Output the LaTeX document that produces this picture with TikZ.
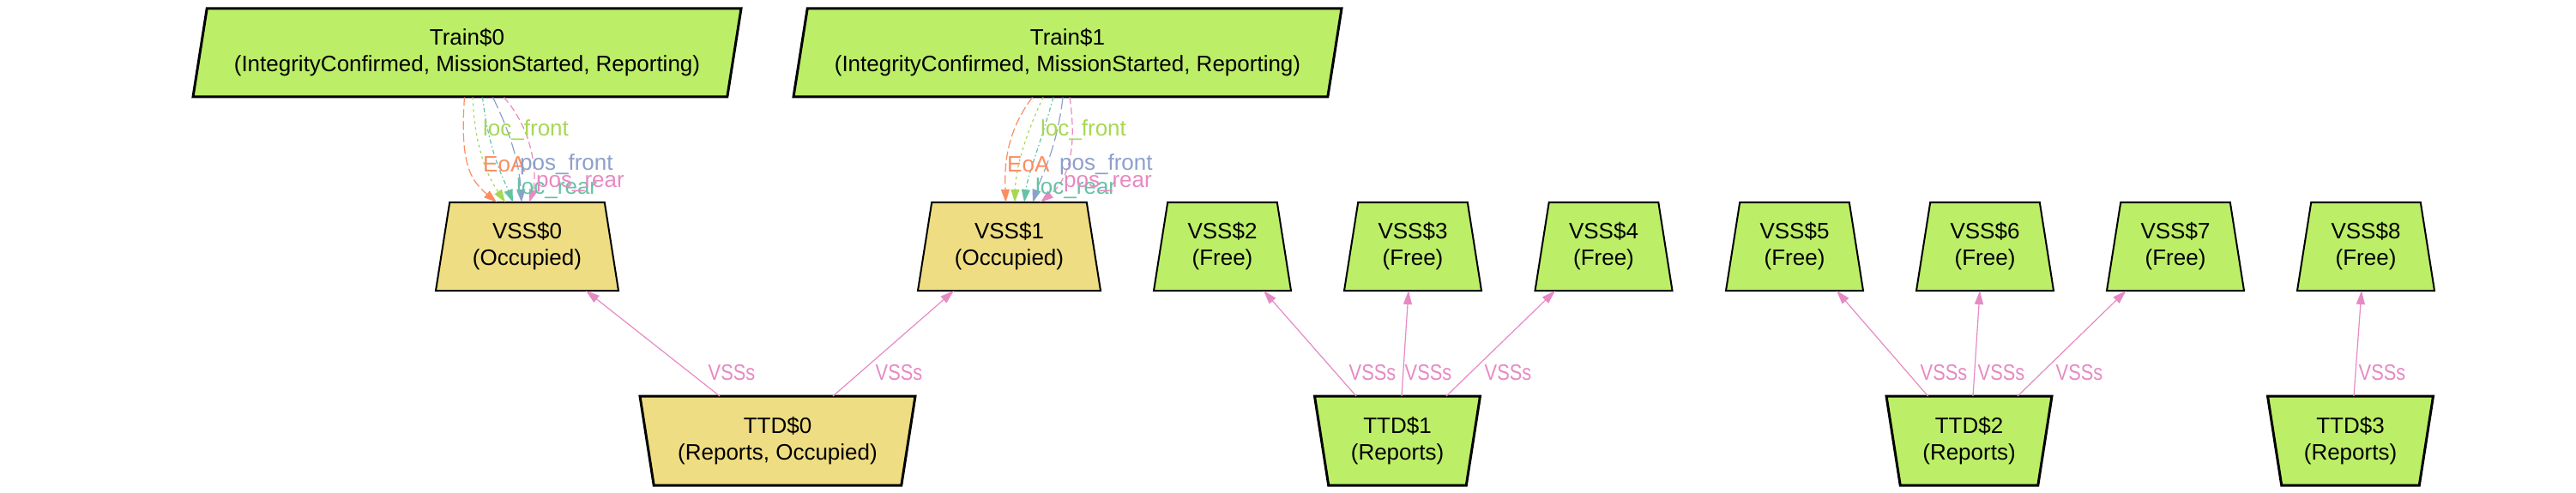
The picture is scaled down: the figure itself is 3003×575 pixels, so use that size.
\documentclass[tikz,border=0pt]{standalone}
\usepackage{fontspec}
\setmainfont{Liberation Sans}
\newfontfamily\narrowlbl[FakeStretch=0.84]{Liberation Sans}
\usetikzlibrary{shapes.geometric,arrows.meta,calc}
\definecolor{gfill}{HTML}{BCEE68}
\definecolor{yfill}{HTML}{EEDD82}
\definecolor{cEoA}{HTML}{FC8D62}
\definecolor{cLF}{HTML}{A6D854}
\definecolor{cLR}{HTML}{66C2A5}
\definecolor{cPF}{HTML}{8DA0CB}
\definecolor{cPR}{HTML}{E78AC3}
\newcommand{\nfont}{\fontsize{26}{31}\selectfont}
\begin{document}
\begin{tikzpicture}[x=1pt,y=-1pt,
  shapebase/.style={trapezium, trapezium stretches body, trapezium left angle=73.76, trapezium right angle=73.76, inner sep=0pt, align=center, font=\nfont, draw=black, line width=2pt},
  vssfree/.style={shapebase, fill=gfill, minimum width=160pt, minimum height=103pt},
  vssocc/.style={shapebase, fill=yfill, minimum width=213pt, minimum height=103pt},
  ttdfree/.style={shapebase, shape border rotate=180, line width=3pt, fill=gfill, minimum width=193pt, minimum height=104pt},
  ttdocc/.style={shapebase, shape border rotate=180, line width=3pt, fill=yfill, minimum width=321pt, minimum height=104pt},
  trainbox/.style={shapebase, trapezium right angle=106.24, line width=3pt, fill=gfill, minimum width=639pt, minimum height=103pt},
  lbl/.style={inner sep=0pt, font=\nfont},
  vlbl/.style={inner sep=0pt, font=\narrowlbl\nfont, text=cPR},
  vssedge/.style={draw=cPR, line width=1.2pt, -{Triangle[length=16pt,width=10pt]}},
  tedge/.style={line width=1.2pt, -{Triangle[length=15pt,width=10pt]}},
  eEoA/.style={tedge, draw=cEoA, dash pattern=on 10pt off 4pt},
  eLF/.style={tedge, draw=cLF, dash pattern=on 3pt off 4pt},
  eLR/.style={tedge, draw=cLR, dash pattern=on 5pt off 3pt on 1.5pt off 3pt},
  ePF/.style={tedge, draw=cPF, dash pattern=on 14pt off 5pt},
  ePR/.style={tedge, draw=cPR, dash pattern=on 8pt off 4pt},
]
\useasboundingbox[fill=white] (0,0) rectangle (3003,575);

% trains
\node[trainbox] (t0) at (544.5,61.5) {Train\$0\\(IntegrityConfirmed, MissionStarted, Reporting)};
\node[trainbox] (t1) at (1244.5,61.5) {Train\$1\\(IntegrityConfirmed, MissionStarted, Reporting)};

% VSS
\node[vssocc] (v0) at (614.5,287.5) {VSS\$0\\(Occupied)};
\node[vssocc] (v1) at (1176.5,287.5) {VSS\$1\\(Occupied)};
\node[vssfree] (v2) at (1425,287.5) {VSS\$2\\(Free)};
\node[vssfree] (v3) at (1647,287.5) {VSS\$3\\(Free)};
\node[vssfree] (v4) at (1869.5,287.5) {VSS\$4\\(Free)};
\node[vssfree] (v5) at (2092,287.5) {VSS\$5\\(Free)};
\node[vssfree] (v6) at (2314,287.5) {VSS\$6\\(Free)};
\node[vssfree] (v7) at (2536,287.5) {VSS\$7\\(Free)};
\node[vssfree] (v8) at (2758,287.5) {VSS\$8\\(Free)};

% TTD
\node[ttdocc] (d0) at (906.5,514) {TTD\$0\\(Reports, Occupied)};
\node[ttdfree] (d1) at (1629,514) {TTD\$1\\(Reports)};
\node[ttdfree] (d2) at (2295.5,514) {TTD\$2\\(Reports)};
\node[ttdfree] (d3) at (2740,514) {TTD\$3\\(Reports)};

% Train0 -> VSS0
\draw[eEoA] ($(t0)+(-3,52)$) .. controls (536,190) and (548,210) .. ($(v0)+(-35.5,-51.5)$);
\draw[eLF] ($(t0)+(6.5,52)$) .. controls (554,185) and (575,215) .. ($(v0)+(-25.5,-51.5)$);
\draw[eLR] ($(t0)+(18,52)$) .. controls (570,180) and (590,215) .. ($(v0)+(-16.5,-51.5)$);
\draw[ePF] ($(t0)+(30,52)$) .. controls (600,165) and (606,200) .. ($(v0)+(-6.5,-51.5)$);
\draw[ePR] ($(t0)+(43,52)$) .. controls (628,160) and (624,215) .. ($(v0)+(2.5,-51.5)$);
\node[lbl, anchor=west, text=cLF] (a0lf) at (563,152) {loc\_front};
\node[lbl, anchor=west, text=cEoA] (a0eoa) at (563,192) {EoA};
\node[lbl, anchor=west, text=cPF] (a0pf) at (606,192) {pos\_front};
\node[lbl, anchor=west, text=cLR] (a0lr) at (602,220) {loc\_rear};
\node[lbl, anchor=west, text=cPR] (a0pr) at (625,214) {pos\_rear};

% Train1 -> VSS1
\draw[eEoA] ($(t1)+(-41,52)$) .. controls (1172,155) and (1171,195) .. ($(v1)+(-4,-51.5)$);
\draw[eLF] ($(t1)+(-28.5,52)$) .. controls (1192,165) and (1184,200) .. ($(v1)+(6.5,-51.5)$);
\draw[eLR] ($(t1)+(-16.5,52)$) .. controls (1212,170) and (1198,205) .. ($(v1)+(17.5,-51.5)$);
\draw[ePF] ($(t1)+(-5.5,52)$) .. controls (1232,175) and (1212,210) .. ($(v1)+(27.5,-51.5)$);
\draw[ePR] ($(t1)+(2.5,52)$) .. controls (1256,175) and (1245,210) .. ($(v1)+(36.5,-51.5)$);
\node[lbl, anchor=west, text=cLF] (a1lf) at (1213,152) {loc\_front};
\node[lbl, anchor=west, text=cEoA] (a1eoa) at (1174,192) {EoA};
\node[lbl, anchor=west, text=cPF] (a1pf) at (1235,192) {pos\_front};
\node[lbl, anchor=west, text=cLR] (a1lr) at (1207,220) {loc\_rear};
\node[lbl, anchor=west, text=cPR] (a1pr) at (1240,214) {pos\_rear};

% TTD -> VSS
\draw[vssedge] ($(d0)+(-67.5,-52)$) -- ($(v0)+(68.5,51.5)$);
\draw[vssedge] ($(d0)+(64.5,-52)$) -- ($(v1)+(-64.5,51.5)$);
\draw[vssedge] ($(d1)+(-48,-52)$) -- ($(v2)+(48,51.5)$);
\draw[vssedge] ($(d1)+(5,-52)$) -- ($(v3)+(-5,51.5)$);
\draw[vssedge] ($(d1)+(57,-52)$) -- ($(v4)+(-56.5,51.5)$);
\draw[vssedge] ($(d2)+(-48,-52)$) -- ($(v5)+(49,51.5)$);
\draw[vssedge] ($(d2)+(4.5,-52)$) -- ($(v6)+(-6,51.5)$);
\draw[vssedge] ($(d2)+(56.5,-52)$) -- ($(v7)+(-57.5,51.5)$);
\draw[vssedge] ($(d3)+(4,-52)$) -- ($(v8)+(-5,51.5)$);

\node[vlbl] (b1) at (853,435) {VSSs};
\node[vlbl] (b2) at (1048,435) {VSSs};
\node[vlbl] (b3) at (1600,435) {VSSs};
\node[vlbl] (b4) at (1665,435) {VSSs};
\node[vlbl] (b5) at (1758,435) {VSSs};
\node[vlbl] (b6) at (2266,435) {VSSs};
\node[vlbl] (b7) at (2333,435) {VSSs};
\node[vlbl] (b8) at (2424,435) {VSSs};
\node[vlbl] (b9) at (2777,435) {VSSs};
\end{tikzpicture}
\end{document}
